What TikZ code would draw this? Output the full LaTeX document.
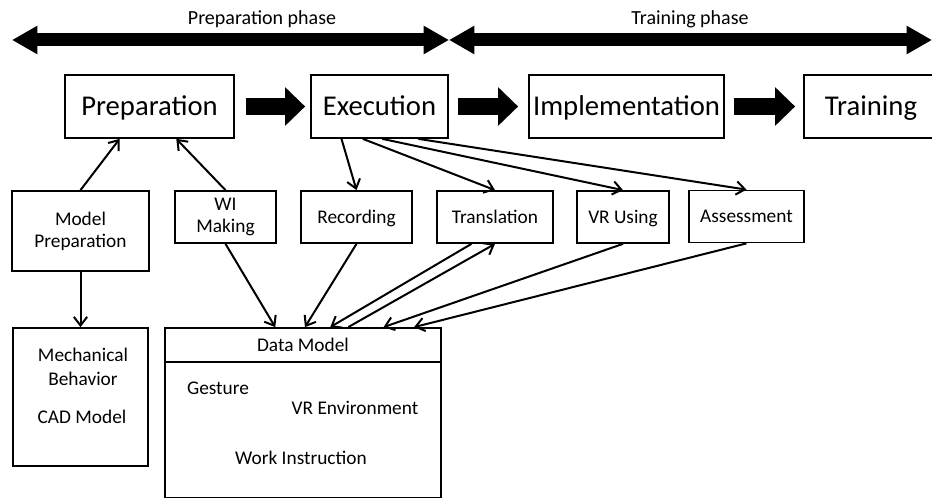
\documentclass[tikz,border=0pt]{standalone}
\usepackage{fontspec}
\setmainfont{Carlito}
\usetikzlibrary{arrows.meta, calc}

\begin{document}
\begin{tikzpicture}[x=0.75pt, y=-0.75pt,
           stage/.style={draw, line width=1.3pt, minimum height=47.25pt, inner sep=0pt,
              text height=14pt, text depth=0pt, text centered, font=\fontsize{21.5}{25}\selectfont},
           task/.style={draw, line width=1.3pt, minimum height=39pt, inner sep=0pt,
              align=center, font=\fontsize{14.5}{16.5}\selectfont},
           oneline/.style={text height=9.5pt, text depth=0pt},
           store/.style={draw, line width=1.3pt, inner sep=0pt},
           plain/.style={inner sep=0pt, align=center, font=\fontsize{14.5}{18}\selectfont},
           phase/.style={<->, >={Triangle[length=19pt,width=20pt]}, line width=9.75pt},
           step arrow/.style={-{Triangle[length=15pt,width=28pt]}, line width=12.75pt},
           connections/.style={-{Straight Barb[length=6.5pt,width=10pt]}, line width=1.5pt},
        ]
        \useasboundingbox (0,0) rectangle (932,498);

        % phases
        \coordinate (phasestart) at (12,40);
        \coordinate (phasemid) at (449,40);
        \coordinate (phaseend) at (932,40);
        \draw[phase] (phasestart) -- (phasemid);
        \draw[phase] (phasemid) -- (phaseend);
        \node[plain, font=\fontsize{15}{18}\selectfont] at (262,19) (prepphase) {Preparation phase};
        \node[plain, font=\fontsize{15}{18}\selectfont] at (690,19) (trainphase) {Training phase};

        % main stages
        \node at (149.5,106.5) (prep) [stage, minimum width=126.75pt] {Preparation};
        \node at (379.5,106.5) (exec) [stage, minimum width=102.75pt] {Execution};
        \node at (626.5,106.5) (impl) [stage, minimum width=146.25pt] {Implementation};
        \node at (871,106.5) (train) [stage, minimum width=100.5pt] {Training};
        \draw[step arrow, shorten <=8.25pt, shorten >=3.75pt] (prep.east) -- (exec.west);
        \draw[step arrow, shorten <=6.75pt, shorten >=7.5pt] (exec.east) -- (impl.west);
        \draw[step arrow, shorten <=6.75pt, shorten >=6pt] (impl.east) -- (train.west);

        % tasks
        \node at (80.5,231) (mprep) [task, minimum width=102.75pt, minimum height=60pt] {Model\\Preparation};
        \node at (225.5,217) (wim) [task, minimum width=75.75pt] {WI\\Making};
        \node at (356.5,217) (rec) [task, oneline, minimum width=83.25pt] {Recording};
        \node at (495,217) (trans) [task, oneline, minimum width=87pt] {Translation};
        \node at (623,217) (vru) [task, oneline, minimum width=69pt] {VR Using};
        \node at (746.5,216.5) (assess) [task, oneline, minimum width=86.25pt] {Assessment};

        % data
        \node at (80.5,397) (mech) [store, minimum width=101.25pt, minimum height=103.5pt] {};
        \node at (83,367) (mechtxt) [plain] {Mechanical\\Behavior};
        \node at (82,417) (cadtxt) [plain] {CAD Model};
        \node at (303,345) (dmhead) [store, oneline, minimum width=207pt, minimum height=25.5pt, font=\fontsize{14.5}{16.5}\selectfont] {Data Model};
        \node at (303,430) (dmbody) [store, minimum width=207pt, minimum height=102pt] {};
        \node at (218,388) (gesture) [plain] {Gesture};
        \node at (355,408) (vrenv) [plain] {VR Environment};
        \node at (301,458) (workinstr) [plain] {Work Instruction};

        \draw[connections] (mprep.north) -- ($(prep.south west)!0.325!(prep.south east)$);
        \draw[connections] (wim.north) -- ($(prep.south west)!0.657!(prep.south east)$);
        \draw[connections] (mprep.south) -- (mech.north);
        \draw[connections] ($(exec.south west)!0.226!(exec.south east)$) -- (rec.north);
        \draw[connections] ($(exec.south west)!0.38!(exec.south east)$) -- (trans.north);
        \draw[connections] ($(exec.south west)!0.52!(exec.south east)$) -- (vru.north);
        \draw[connections] ($(exec.south west)!0.78!(exec.south east)$) -- (assess.north);
        \draw[connections] (wim.south) -- ($(dmhead.north west)!0.40!(dmhead.north east)$);
        \draw[connections] (rec.south) -- ($(dmhead.north west)!0.507!(dmhead.north east)$);
        \draw[connections] ($(trans.south west)!0.30!(trans.south east)$) -- ($(dmhead.north west)!0.598!(dmhead.north east)$);
        \draw[connections] ($(dmhead.north west)!0.663!(dmhead.north east)$) -- (trans.south);
        \draw[connections] (vru.south) -- ($(dmhead.north west)!0.79!(dmhead.north east)$);
        \draw[connections] (assess.south) -- ($(dmhead.north west)!0.9!(dmhead.north east)$);
     \end{tikzpicture}
\end{document}
